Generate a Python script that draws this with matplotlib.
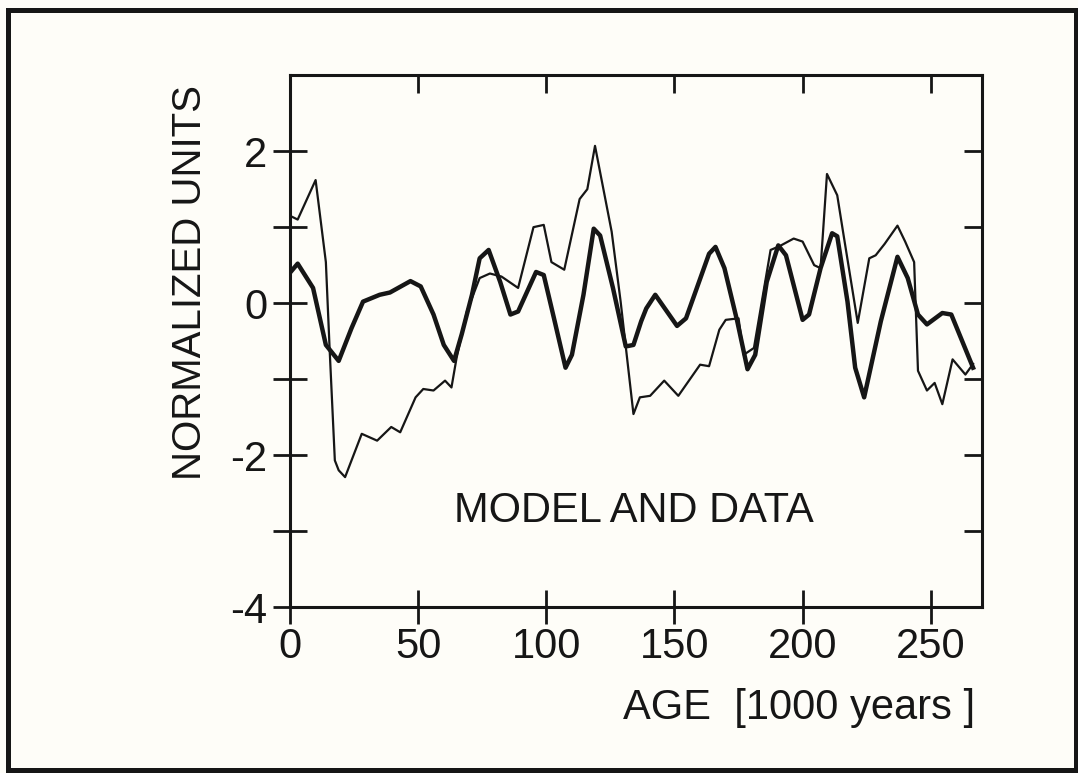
import matplotlib.pyplot as plt
from matplotlib.patches import Rectangle

# model curve (thick)
model_age = [0, 3, 9, 14, 19, 24, 28.5, 35, 39, 47, 51, 56, 60, 64, 67, 71, 74, 77.5,
             82, 86, 89, 96, 99, 103, 107.5, 110, 114.5, 118.5, 121, 126, 131, 134,
             137, 139, 142.5, 151, 154.5, 163.5, 166, 169.5, 174.5, 178.5, 181.5, 186,
             190.5, 193.5, 200, 202.5, 207, 211.5, 213.5, 217.5, 220.5, 224, 230.5,
             237, 241, 245, 248.5, 254.5, 258, 266.5]
model_val = [0.4, 0.52, 0.2, -0.55, -0.76, -0.33, 0.02, 0.11, 0.14, 0.29, 0.22, -0.15,
             -0.55, -0.76, -0.41, 0.11, 0.59, 0.70, 0.28, -0.15, -0.11, 0.41, 0.37, -0.2,
             -0.85, -0.68, 0.11, 0.98, 0.89, 0.2, -0.57, -0.55, -0.24, -0.07, 0.11, -0.3,
             -0.2, 0.65, 0.74, 0.46, -0.24, -0.87, -0.68, 0.28, 0.76, 0.63, -0.22, -0.15,
             0.46, 0.92, 0.88, 0.02, -0.85, -1.24, -0.24, 0.61, 0.33, -0.15, -0.28, -0.13,
             -0.15, -0.85]

# data curve (thin)
data_age = [0, 3, 10, 14, 15.5, 17.5, 19, 21.5, 28, 34, 39.5, 43, 49, 52, 56, 60.5, 63,
            65, 69, 74, 78, 82.5, 89, 95, 99, 102, 107, 113, 116, 119, 125.5, 129, 134,
            136.5, 140.5, 146, 151.5, 160, 163.5, 167.5, 170, 175, 177, 181, 187.5, 191,
            196.5, 200, 204.5, 207, 209.5, 213.5, 216, 221.5, 226, 228.5, 232, 237, 240,
            243.5, 245, 248.5, 251.5, 254.5, 258.5, 263.5, 266.5]
data_val = [1.15, 1.1, 1.62, 0.54, -0.63, -2.07, -2.2, -2.29, -1.72, -1.81, -1.63, -1.70,
            -1.24, -1.13, -1.15, -1.02, -1.11, -0.72, -0.11, 0.33, 0.39, 0.35, 0.2, 1.0,
            1.03, 0.54, 0.44, 1.37, 1.5, 2.07, 0.94, 0.02, -1.46, -1.24, -1.22, -1.02,
            -1.22, -0.81, -0.83, -0.35, -0.22, -0.2, -0.68, -0.59, 0.7, 0.75, 0.85, 0.81,
            0.5, 0.46, 1.7, 1.42, 0.89, -0.26, 0.59, 0.63, 0.78, 1.02, 0.81, 0.54, -0.89,
            -1.15, -1.05, -1.33, -0.74, -0.94, -0.8]

x_ticks = [0, 50, 100, 150, 200, 250]
y_ticks = [-4, -3, -2, -1, 0, 1, 2]
y_labels = ['-4', '', '-2', '', '0', '', '2']

ink = '#161616'
paper = '#fefdf8'
plain = ['Liberation Sans', 'DejaVu Sans']

fig = plt.figure(figsize=(10.78, 7.73), dpi=100, facecolor=paper)
ax = fig.add_axes([0.269, 0.2147, 0.642, 0.688])
ax.set_facecolor(paper)

ax.plot(data_age, data_val, color=ink, lw=1.6, solid_joinstyle='round')
ax.plot(model_age, model_val, color=ink, lw=3.2, solid_joinstyle='round')

ax.set_xlim(0, 270)
ax.set_ylim(-4, 3)

for s in ax.spines.values():
    s.set_linewidth(2.2)
    s.set_color(ink)

ax.set_xticks(x_ticks)
ax.set_xticklabels([str(t) for t in x_ticks])
ax.set_yticks(y_ticks)
ax.set_yticklabels(y_labels)
ax.tick_params(axis='both', which='major', direction='inout', length=25, width=2,
               color=ink, labelcolor=ink, labelsize=30)
ax.tick_params(axis='x', pad=2)
ax.tick_params(axis='y', pad=4)
for lbl in ax.get_xticklabels() + ax.get_yticklabels():
    lbl.set_family(plain)

# inward ticks on top and right only
sec_x = ax.secondary_xaxis('top')
sec_x.set_xticks(x_ticks[1:])
sec_x.tick_params(direction='in', length=13, width=2, color=ink, labeltop=False)
sec_x.spines['top'].set_visible(False)
sec_y = ax.secondary_yaxis('right')
sec_y.set_yticks(y_ticks[1:])
sec_y.tick_params(direction='in', length=13, width=2, color=ink, labelright=False)
sec_y.spines['right'].set_visible(False)

ax.text(134, -2.73, 'MODEL AND DATA', ha='center', va='center', fontsize=30,
        family=plain, color=ink)
ax.text(0.99, -0.19, 'AGE  [1000 years ]', transform=ax.transAxes, ha='right',
        va='center', fontsize=30, family=plain, color=ink)
ax.text(-0.145, 0.61, 'NORMALIZED UNITS', transform=ax.transAxes, rotation=90,
        ha='center', va='center', fontsize=29, family=plain, color=ink)

fig.patches.append(Rectangle((0.0074, 0.004), 0.9906, 0.983, transform=fig.transFigure,
                             fill=False, lw=3.6, edgecolor=ink))

fig.savefig('out.png', dpi=100, facecolor=paper)
